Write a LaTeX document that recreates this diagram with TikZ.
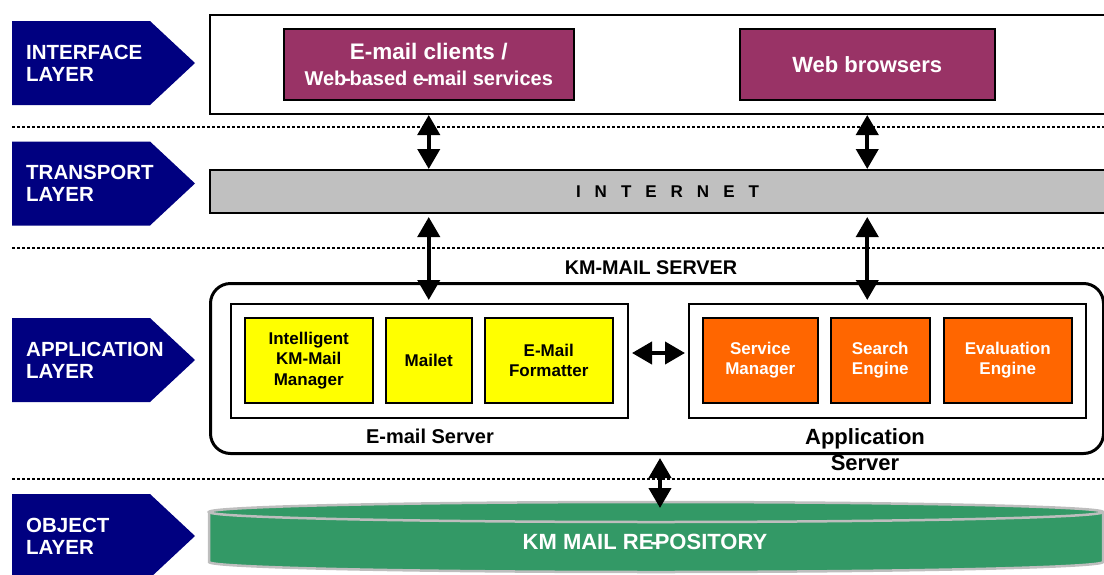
\documentclass[tikz,border=0pt]{standalone}
\usepackage{fontspec}
\setmainfont{Liberation Sans}
\usetikzlibrary{arrows.meta,positioning}
\definecolor{layerblue}{RGB}{0,0,128}
\definecolor{plum}{RGB}{153,51,102}
\definecolor{mailyellow}{RGB}{255,255,0}
\definecolor{apporange}{RGB}{255,102,0}
\definecolor{netgray}{RGB}{192,192,192}
\definecolor{repogreen}{RGB}{51,153,102}
\definecolor{repoedge}{RGB}{190,190,190}

\begin{document}
\begin{tikzpicture}[x=1pt, y=-1pt,
    laytext/.style={text=white, font=\fontsize{20.5}{22}\selectfont\bfseries, align=left, anchor=west, inner sep=0pt},
    frame/.style={draw=black, line width=2pt, anchor=north west, inner sep=0pt},
    clientbox/.style={frame, line width=1.5pt, fill=plum, text=white, minimum height=71pt, align=center},
    compbox/.style={frame, line width=1.5pt, minimum height=85pt, font=\fontsize{17}{20.5}\selectfont\bfseries, align=center},
    dblarrow/.style={line width=4pt, {Triangle[width=22pt,length=20pt]}-{Triangle[width=22pt,length=20pt]}}]
    \useasboundingbox (0,0) rectangle (1104,574);
    % layer labels
    \foreach \y/\name/\txt in {63/iface/INTERFACE, 183.5/trans/TRANSPORT, 360/appl/APPLICATION, 536/obj/OBJECT}{
        \fill[layerblue] (12,\y-42) -- (150,\y-42) -- (195,\y) -- (150,\y+42) -- (12,\y+42) -- cycle;
        \node[laytext] (lay\name) at (26,\y) {\txt\\LAYER};
    }
    \foreach \y in {127,248,479}
        \draw[line width=2.5pt, dash pattern=on 3pt off 2pt] (12,\y) -- (1104,\y);
    % interface and transport
    \node[frame, minimum width=897pt, minimum height=99pt] (ui) at (209,14) {};
    \node[clientbox, minimum width=290pt, font=\fontsize{22.5}{26}\selectfont\bfseries] (mail) at (283,28)
        {E-mail clients /\\{\fontsize{20}{26}\selectfont Web\kern-2pt-\kern-1.5pt based e\kern-2pt-\kern-1.5pt mail services}};
    \node[clientbox, minimum width=255pt, font=\fontsize{22}{26}\selectfont\bfseries] (web) at (739,28) {Web browsers};
    \node[frame, fill=netgray, minimum width=897pt, minimum height=43pt,
          font=\fontsize{17}{20}\selectfont\bfseries] (net) at (209,169) {\hspace*{18pt}{\spaceskip=14pt I N T E R N E T}};
    % application layer
    \node[frame, line width=3pt, rounded corners=20pt, minimum width=893pt, minimum height=170pt] (kms) at (209,282) {};
    \node[font=\fontsize{19.8}{22}\selectfont\bfseries] (kmslabel) at (651,268) {KM-MAIL SERVER};
    \node[frame, minimum width=397pt, minimum height=114pt] (esrv) at (230,303) {};
    \node[frame, minimum width=397pt, minimum height=114pt] (asrv) at (688,303) {};
    \foreach \x/\w/\name/\txt in {244/128/kmm/{Intelligent\\KM-Mail\\Manager}, 385/86/mailet/Mailet, 484/128/fmt/{E-Mail\\Formatter}}
        \node[compbox, fill=mailyellow, minimum width=\w] (\name) at (\x,317) {\txt};
    \foreach \x/\w/\name/\txt in {702/115/svc/{Service\\Manager}, 830/99/search/{Search\\Engine}, 943/128/eval/{Evaluation\\Engine}}
        \node[compbox, fill=apporange, text=white, minimum width=\w] (\name) at (\x,317) {\txt};
    \node[font=\fontsize{20}{24}\selectfont\bfseries] (esrvlabel) at (430,436) {E-mail Server};
    \node[font=\fontsize{22}{26}\selectfont\bfseries, align=center] (asrvlabel) at (865,450) {Application\\Server};
    % object layer
    \filldraw[draw=repoedge, fill=repogreen, line width=2.5pt] (209,512) -- (209,562)
        arc[start angle=180, end angle=0, x radius=447, y radius=10] -- (1103,512) -- cycle;
    \filldraw[draw=repoedge, fill=repogreen, line width=2.5pt] (656,512) ellipse[x radius=447, y radius=10];
    \node[text=white, font=\fontsize{22}{26}\selectfont\bfseries] (repo) at (645,542) {KM MAIL RE\kern-3pt-\kern-3pt POSITORY};
    \coordinate (repotop) at (660,508);
    % connectors
    \draw[dblarrow] (mail.south |- ui.south) -- (mail.south |- net.north);
    \draw[dblarrow] (web.south |- ui.south) -- (web.south |- net.north);
    \draw[dblarrow, shorten <=3pt, shorten >=3pt] (mail.south |- net.south) -- (mail.south |- esrv.north);
    \draw[dblarrow, shorten <=3pt, shorten >=3pt] (web.south |- net.south) -- (web.south |- asrv.north);
    \draw[dblarrow, shorten <=3pt, shorten >=3pt] ([yshift=8pt]esrv.east) -- ([yshift=8pt]asrv.west);
    \draw[dblarrow, shorten <=3pt] (kms.south -| repotop) -- (repotop);
\end{tikzpicture}
\end{document}
